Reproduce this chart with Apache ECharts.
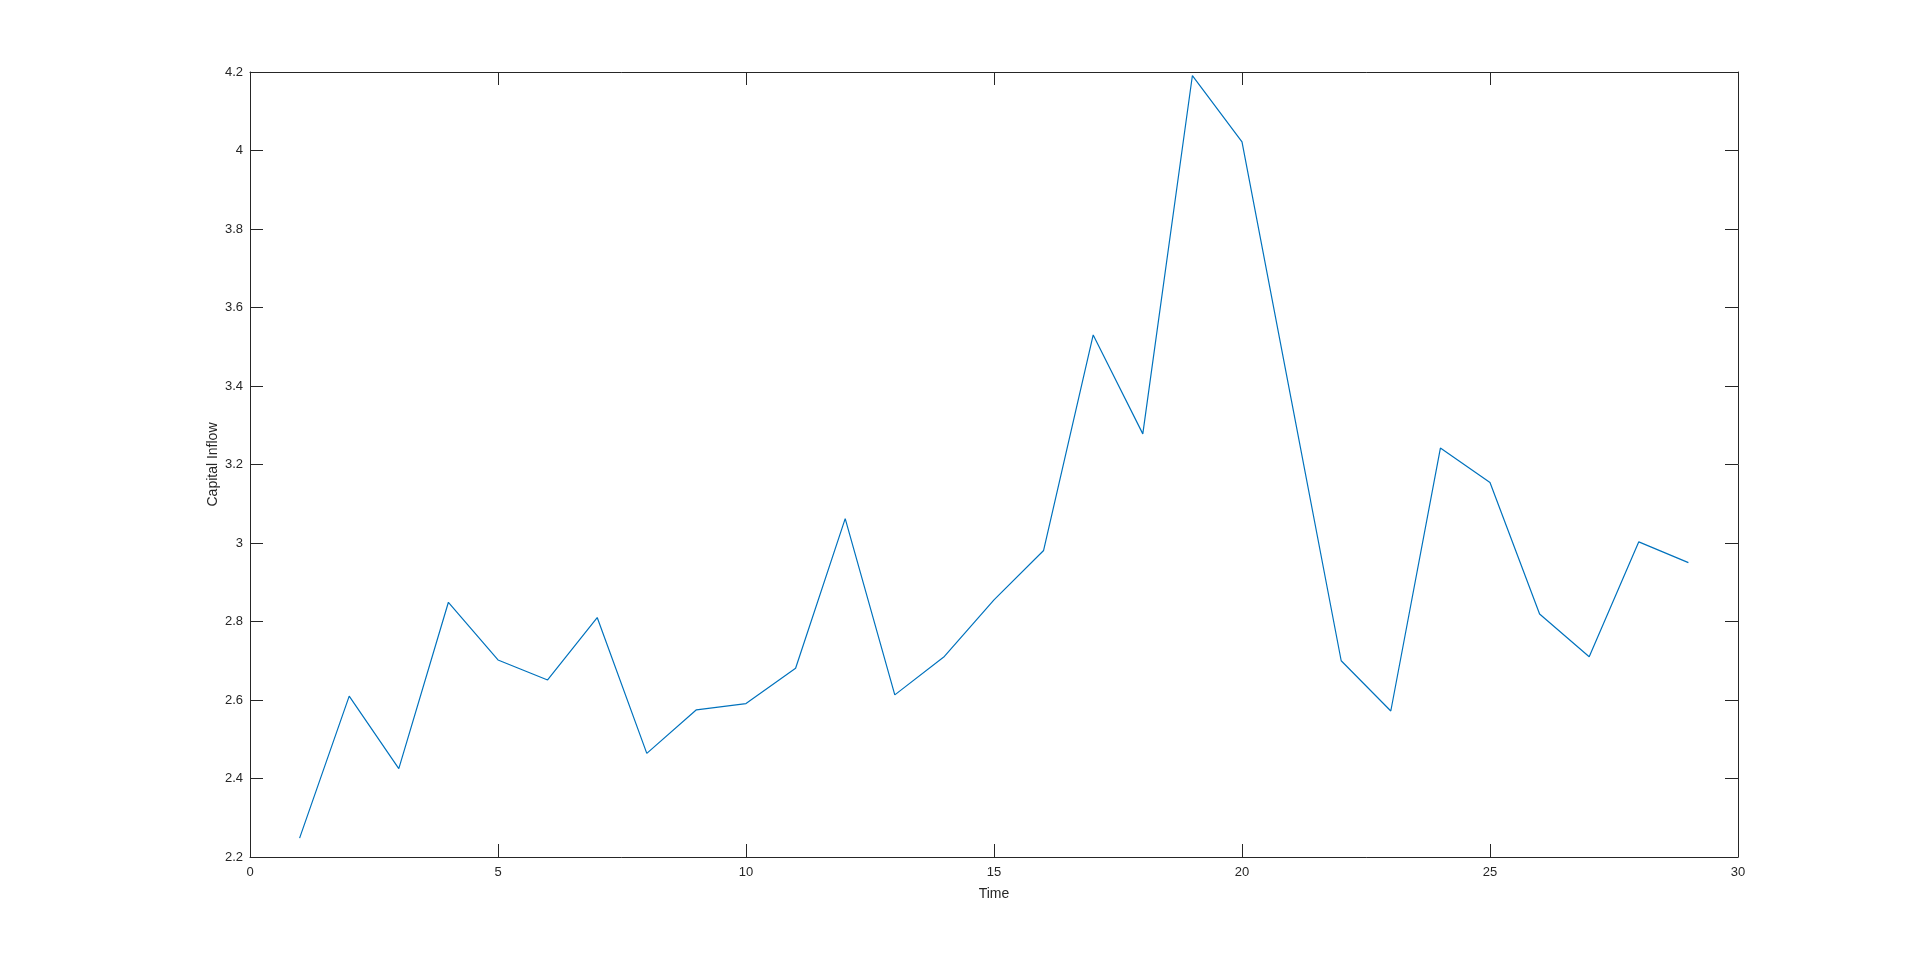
<!DOCTYPE html>
<html>
<head>
<meta charset="utf-8">
<title>Capital Inflow</title>
<script src="https://cdn.jsdelivr.net/npm/echarts@6/dist/echarts.min.js"></script>
<style>
  html, body { margin: 0; padding: 0; background: #fff; }
  #chart { width: 1920px; height: 964px; }
</style>
</head>
<body>
<div id="chart"></div>
<script>
// time steps and capital inflow values
var times = [1, 2, 3, 4, 5, 6, 7, 8, 9, 10, 11, 12, 13, 14, 15,
  16, 17, 18, 19, 20, 21, 22, 23, 24, 25, 26, 27, 28, 29]
var inflow = [2.248, 2.610, 2.425, 2.849, 2.702, 2.651, 2.810, 2.464, 2.575, 2.591,
  2.681, 3.062, 2.613, 2.711, 2.855, 2.981, 3.530, 3.278, 4.191, 4.022,
  3.361, 2.700, 2.572, 3.242, 3.154, 2.819, 2.710, 3.003, 2.950]

var axisColor = '#262626'
var fontFamily = 'Liberation Sans, Arial, sans-serif'

var points = []
for (var i = 0; i < times.length; i++) {
  points.push([times[i], inflow[i]])
}

function boxAxis(base, showLabel) {
  var ax = {
    type: 'value',
    axisLine: { show: true, onZero: false, lineStyle: { color: axisColor, width: 1 } },
    axisTick: { show: true, inside: true, length: 13, lineStyle: { color: axisColor, width: 1 } },
    axisLabel: { show: showLabel, color: axisColor, fontSize: 13, fontFamily: fontFamily },
    splitLine: { show: false }
  }
  for (var k in base) ax[k] = base[k]
  return ax
}

var myChart = echarts.init(document.getElementById('chart'))
var option = {
  animation: false,
  backgroundColor: '#fff',
  grid: { left: 250, right: 182, top: 72, bottom: 107, containLabel: false },
  xAxis: [
    boxAxis({
      position: 'bottom', min: 0, max: 30, interval: 5,
      name: 'Time', nameLocation: 'middle', nameGap: 30,
      nameTextStyle: { color: axisColor, fontSize: 14, fontFamily: fontFamily }
    }, true),
    boxAxis({ position: 'top', min: 0, max: 30, interval: 5 }, false)
  ],
  yAxis: [
    boxAxis({
      position: 'left', min: 2.2, max: 4.2, interval: 0.2,
      name: 'Capital Inflow', nameLocation: 'middle', nameGap: 30,
      nameMoveOverlap: false,
      nameTextStyle: { color: axisColor, fontSize: 14, fontFamily: fontFamily }
    }, true),
    boxAxis({ position: 'right', min: 2.2, max: 4.2, interval: 0.2 }, false)
  ],
  series: [
    {
      type: 'line',
      data: points,
      xAxisIndex: 0,
      yAxisIndex: 0,
      showSymbol: false,
      symbol: 'none',
      lineStyle: { color: '#0072BD', width: 1.2 },
      silent: true
    }
  ]
}

// keep tick labels a little off the axis, as in the figure
option.yAxis[0].axisLabel.margin = 7
option.xAxis[0].axisLabel.margin = 9

myChart.setOption(option)
</script>
</body>
</html>
